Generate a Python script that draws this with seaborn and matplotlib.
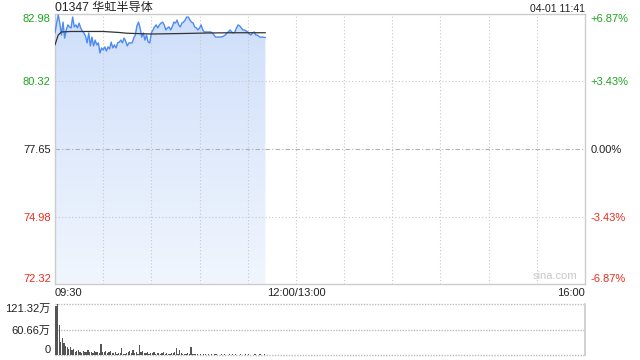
import numpy as np
import pandas as pd
import matplotlib
matplotlib.use("Agg")
import matplotlib.pyplot as plt
import seaborn as sns

sns.set_theme(style="white")
plt.rcParams['font.family'] = ['Liberation Sans', 'Noto Sans CJK SC', 'DejaVu Sans']

title = "01347 华虹半导体"
stamp = "04-01 11:41"
prev_close = 77.65
price_ticks = [72.32, 74.98, 77.65, 80.32, 82.98]
pct_labels = ["-6.87%", "-3.43%", "0.00%", "+3.43%", "+6.87%"]
time_ticks = [0, 150, 330]
time_labels = ["09:30", "12:00/13:00", "16:00"]
vol_ticks = [0, 60.66, 121.32]
vol_labels = ["0", "60.66万", "121.32万"]

price = [82.23, 82.62, 82.94, 82.62, 82.15, 82.66, 82.03, 82.35, 82.55, 82.47,
         82.43, 82.86, 82.47, 82.55, 82.43, 82.62, 82.43, 82.31, 82.23, 82.11,
         81.84, 82.23, 81.72, 82.07, 81.72, 81.95, 81.76, 81.84, 81.44, 81.64,
         81.56, 81.68, 81.52, 81.68, 81.60, 81.87, 81.64, 81.76, 81.64, 81.84,
         81.87, 81.95, 81.84, 82.03, 81.91, 81.72, 81.84, 81.84, 81.84, 82.03,
         82.15, 82.51, 82.66, 82.43, 82.07, 82.23, 81.95, 82.15, 81.87, 81.84,
         82.23, 82.35, 82.47, 82.55, 82.43, 82.55, 82.62, 82.66, 82.55, 82.35,
         82.43, 82.47, 82.35, 82.47, 82.66, 82.62, 82.74, 82.55, 82.47, 82.62,
         82.66, 82.74, 82.86, 82.86, 82.74, 82.66, 82.62, 82.47, 82.43, 82.35,
         82.43, 82.55, 82.35, 82.27, 82.27, 82.27, 82.27, 82.27, 82.23, 82.15,
         82.07, 82.07, 82.07, 82.07, 82.08, 82.11, 82.15, 82.23, 82.28, 82.35,
         82.27, 82.23, 82.27, 82.43, 82.55, 82.51, 82.43, 82.35, 82.35, 82.31,
         82.27, 82.19, 82.15, 82.23, 82.27, 82.15, 82.15, 82.09, 82.06, 82.07,
         82.06, 82.05]

avg_minute = [0, 2, 4, 10, 30, 35, 40, 45, 60, 80, 95, 110, 131]
avg_price = [81.76, 82.15, 82.27, 82.29, 82.29, 82.27, 82.25, 82.22, 82.19, 82.21, 82.23, 82.24, 82.24]

volume = [117, 121.32, 71, 30, 40, 28, 22, 19, 14, 19, 12, 14, 8, 10, 12, 7, 5, 9, 6, 7,
          11, 6, 8, 5, 9, 7, 8, 5, 26, 8,
          6, 10, 4, 6, 9, 5, 4, 7, 3, 4,
          5, 17, 3, 2, 4, 6, 9, 5, 11, 4,
          6, 3, 24, 8, 10, 5, 4, 7, 3, 5,
          4, 6, 3, 5, 4, 3, 5, 7, 3, 4,
          2, 3, 5, 4, 6, 16, 3, 13, 4, 3,
          2, 3, 4, 2, 20, 3, 2, 1.5, 2, 1,
          2, 1, 1.5, 2, 1, 1.5, 1, 2, 1, 1.5,
          2.5, 1, 1, 2, 1, 1.5, 1, 1, 2, 1,
          1.5, 1, 2, 1, 1, 1.5, 1, 1, 2, 1,
          1.5, 1, 1, 1, 2, 1, 1, 1.5, 1, 1,
          1.5, 1]

minutes = list(range(len(price)))
df = pd.DataFrame({"minute": minutes, "price": price, "volume": volume[:len(price)]})
adf = pd.DataFrame({"minute": avg_minute, "avg": avg_price})

GREEN = "#1fa31f"
RED = "#ee2b1c"
GRID = "#c8c8c8"
SPINE = "#cccccc"

fig = plt.figure(figsize=(6.4, 3.6), dpi=100)
ax = fig.add_axes([55/640, 1-284/360, 530/640, 270/360])
axv = fig.add_axes([55/640, 1-355/360, 530/640, 51/360])

ymin, ymax = price_ticks[0], price_ticks[-1]
ax.set_xlim(0, 330)
ax.set_ylim(ymin, ymax)

# gradient fill under price
poly = ax.fill_between(df["minute"], df["price"], ymin, color="none", lw=0)
grad = np.linspace(0, 1, 256).reshape(-1, 1)
cmap = matplotlib.colors.LinearSegmentedColormap.from_list("g", ["#f1f6fe", "#cfdffa"])
im = ax.imshow(grad, extent=[0, df["minute"].max(), ymin, ymax], origin="lower",
               aspect="auto", cmap=cmap, zorder=1)
path = poly.get_paths()[0]
im.set_clip_path(path, transform=ax.transData)

sns.lineplot(data=df, x="minute", y="price", ax=ax, color="#4d8bf0", lw=1.0, zorder=3)
sns.lineplot(data=adf, x="minute", y="avg", ax=ax, color="#333333", lw=0.9, zorder=4)

# grids
for m in range(30, 330, 30):
    ax.axvline(m, color=GRID, lw=0.8, ls=(0, (1, 2)), zorder=2)
ax.axhline(price_ticks[1], color=GRID, lw=0.8, ls=(0, (1, 2)), zorder=2)
ax.axhline(price_ticks[3], color=GRID, lw=0.8, ls=(0, (1, 2)), zorder=2)
ax.axhline(prev_close, color="#b0b0b0", lw=0.8, ls=(0, (4, 2, 1, 2)), zorder=2)

for s in ax.spines.values():
    s.set_color(SPINE)
    s.set_linewidth(1.0)

ax.set_xlabel("")
ax.set_ylabel("")
ax.set_yticks(price_ticks)
ax.set_yticklabels([f"{v:.2f}" for v in price_ticks], fontsize=8)
ax.tick_params(axis="y", length=0, pad=3)
lcolors = [RED, RED, "#222222", GREEN, GREEN]
for lab, c in zip(ax.get_yticklabels(), lcolors):
    lab.set_color(c)
ax.get_yticklabels()[0].set_va("bottom")
ax.get_yticklabels()[-1].set_va("top")

ax.set_xticks(time_ticks)
ax.set_xticklabels(time_labels, fontsize=8, color="#222222")
ax.tick_params(axis="x", length=0, pad=3)
xl = ax.get_xticklabels()
xl[0].set_ha("left")
xl[-1].set_ha("right")

ax2 = ax.twinx()
ax2.set_ylim(ymin, ymax)
ax2.set_yticks(price_ticks)
ax2.set_yticklabels(pct_labels, fontsize=8)
ax2.tick_params(axis="y", length=0, pad=4)
for lab, c in zip(ax2.get_yticklabels(), lcolors):
    lab.set_color(c)
ax2.get_yticklabels()[0].set_va("bottom")
ax2.get_yticklabels()[-1].set_va("top")
for s in ax2.spines.values():
    s.set_visible(False)
ax2.grid(False)

ax.text(0, 1 + 2.5/270, title, transform=ax.transAxes, fontsize=8.7, color="#222222",
        ha="left", va="baseline")
ax.text(1.0, 1 + 2.5/270, stamp, transform=ax.transAxes, fontsize=7.5, color="#222222",
        ha="right", va="baseline")
ax.text(0.985, 0.012, "sina.com", transform=ax.transAxes, fontsize=8, color="#c8c8c8",
        ha="right", va="bottom")

# volume
axv.bar(df["minute"] + 0.6, df["volume"], width=0.8, color="#555555", lw=0)
axv.set_xlim(0, 330)
axv.set_ylim(0, vol_ticks[-1])
axv.set_xticks([])
axv.set_yticks(vol_ticks)
axv.set_yticklabels(vol_labels, fontsize=8, color="#222222")
axv.tick_params(axis="y", length=0, pad=3)
axv.get_yticklabels()[0].set_va("bottom")
axv.get_yticklabels()[-1].set_va("top")
for yv in vol_ticks:
    axv.axhline(yv, color="#bbbbbb", lw=1.0, ls=(0, (1, 1)), zorder=0, clip_on=False)
for k in ["left", "top", "bottom"]:
    axv.spines[k].set_visible(False)
axv.spines["right"].set_color(SPINE)
axv.set_xlabel("")
axv.set_ylabel("")

fig.savefig("out.png", dpi=100)
